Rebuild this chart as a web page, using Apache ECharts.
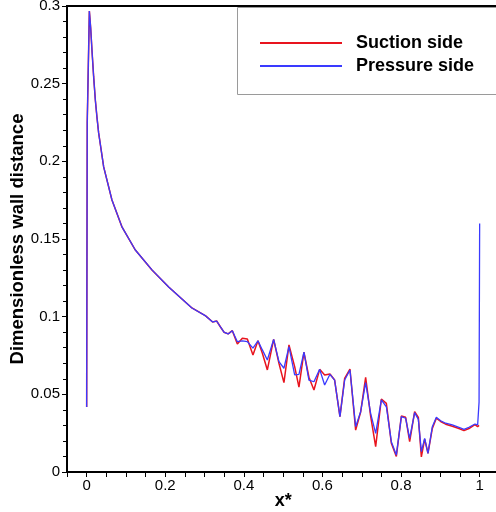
<!DOCTYPE html>
<html>
<head>
<meta charset="utf-8">
<script src="https://cdn.jsdelivr.net/npm/echarts@6/dist/echarts.min.js"></script>
<style>
html,body{margin:0;padding:0;background:#fff;}
#chart{width:496px;height:512px;}
</style>
</head>
<body>
<div id="chart"></div>
<script>
var seriesNames = ['Suction side', 'Pressure side'];
var xStar = [0, 0.0015, 0.0069, 0.0102, 0.0135, 0.0178, 0.0221, 0.0262, 0.0305, 0.0433, 0.0644, 0.0898, 0.1239,
  0.1662, 0.2087, 0.2679, 0.3028, 0.3206, 0.3308, 0.3410, 0.3494, 0.3600, 0.3707,
  0.3835, 0.3962, 0.4089, 0.4232, 0.4359, 0.4471, 0.4598, 0.4758, 0.4893, 0.5020,
  0.5148, 0.5293, 0.5402, 0.5529, 0.5656, 0.5784, 0.5929, 0.6056, 0.6191, 0.6310,
  0.6445, 0.6565, 0.6700, 0.6845, 0.6972, 0.7099, 0.7226, 0.7354, 0.7499, 0.7626,
  0.7753, 0.7880, 0.8008, 0.8117, 0.8219, 0.8346, 0.8440, 0.8517, 0.8601, 0.8685,
  0.8796, 0.8898, 0.9008, 0.9135, 0.9305, 0.9473, 0.9601, 0.9728, 0.9880, 0.9949,
  0.9985, 1.0];
var pressureY = [0.0419, 0.2250, 0.2968, 0.2860, 0.2717, 0.2545, 0.2395, 0.2285, 0.2183, 0.1964, 0.1751, 0.1578, 0.1429,
  0.1301, 0.1191, 0.1056, 0.1005, 0.0966, 0.0972, 0.0932, 0.0900, 0.0889, 0.0910,
  0.0839, 0.0844, 0.0839, 0.0797, 0.0845, 0.0786, 0.0721, 0.0854, 0.0710, 0.0668,
  0.0807, 0.0625, 0.0628, 0.0771, 0.0592, 0.0581, 0.0661, 0.0560, 0.0629, 0.0592,
  0.0356, 0.0592, 0.0657, 0.0292, 0.0388, 0.0575, 0.0378, 0.0249, 0.0464, 0.0420,
  0.0195, 0.0109, 0.0356, 0.0346, 0.0217, 0.0382, 0.0339, 0.0131, 0.0217, 0.0120,
  0.0292, 0.0352, 0.0330, 0.0314, 0.0303, 0.0288, 0.0275, 0.0288, 0.0309, 0.0303,
  0.0450, 0.1600];
var suctionY = [0.0419, 0.2250, 0.2968, 0.2860, 0.2717, 0.2545, 0.2395, 0.2285, 0.2183, 0.1964, 0.1751, 0.1578, 0.1429,
  0.1301, 0.1191, 0.1056, 0.1005, 0.0966, 0.0972, 0.0932, 0.0900, 0.0889, 0.0910,
  0.0824, 0.0861, 0.0856, 0.0753, 0.0845, 0.0764, 0.0657, 0.0854, 0.0700, 0.0575,
  0.0818, 0.0678, 0.0547, 0.0771, 0.0610, 0.0528, 0.0661, 0.0625, 0.0631, 0.0592,
  0.0356, 0.0603, 0.0663, 0.0270, 0.0386, 0.0610, 0.0360, 0.0163, 0.0470, 0.0442,
  0.0185, 0.0100, 0.0360, 0.0352, 0.0195, 0.0388, 0.0352, 0.0097, 0.0212, 0.0120,
  0.0281, 0.0346, 0.0325, 0.0308, 0.0295, 0.0280, 0.0266, 0.0280, 0.0305, 0.0292,
  0.0300, null];
var xTickLabels = ['0', '0.2', '0.4', '0.6', '0.8', '1'];
var yTickLabels = ['0', '0.05', '0.1', '0.15', '0.2', '0.25', '0.3'];

function pairs(xs, ys) {
  var out = [];
  for (var i = 0; i < xs.length; i++) {
    if (ys[i] !== null) out.push([xs[i], ys[i]]);
  }
  return out;
}

var FONT = '"Liberation Sans", Arial, Helvetica, sans-serif';
var chart = echarts.init(document.getElementById('chart'), null, {renderer: 'canvas'});
chart.setOption({
  animation: false,
  backgroundColor: '#ffffff',
  grid: {
    left: 67, top: 6, right: -3.3, bottom: 40,
    outerBoundsMode: 'none', containLabel: false,
    show: true, borderColor: '#000', borderWidth: 2, backgroundColor: 'transparent'
  },
  graphic: [{
    type: 'rect', z: 90,
    shape: { x: 237.5, y: 7.5, width: 300, height: 87 },
    style: { fill: '#ffffff', stroke: '#9a9a9a', lineWidth: 1 }
  }],
  legend: {
    left: 237, top: 7, z: 100,
    orient: 'vertical',
    data: seriesNames,
    icon: 'rect',
    itemWidth: 82, itemHeight: 2, itemGap: 5,
    padding: [27, 10, 20, 23],
    textStyle: { fontFamily: FONT, fontWeight: 'bold', fontSize: 18, color: '#000', padding: [0, 0, 0, 9] }
  },
  xAxis: {
    type: 'value', min: -0.05, max: 1.05, interval: 0.05,
    name: 'x*', nameLocation: 'middle', nameGap: 20, nameMoveOverlap: false,
    nameTextStyle: { fontFamily: FONT, fontWeight: 'bold', fontSize: 18, color: '#000' },
    axisLine: { show: true, onZero: false, lineStyle: { color: '#000', width: 2 } },
    axisTick: { show: true, length: 5, lineStyle: { color: '#000', width: 1 } },
    splitLine: { show: false },
    axisLabel: {
      margin: 6, fontFamily: FONT, fontSize: 15, color: '#000',
      formatter: function (v) {
        var k = Math.round(v * 100);
        if (k < 0 || k > 100 || k % 20 !== 0) return '';
        return xTickLabels[k / 20];
      }
    }
  },
  yAxis: {
    type: 'value', min: 0, max: 0.3, interval: 0.05,
    name: 'Dimensionless wall distance', nameLocation: 'middle', nameGap: 40, nameMoveOverlap: false,
    nameTextStyle: { fontFamily: FONT, fontWeight: 'bold', fontSize: 18.5, color: '#000' },
    axisLine: { show: true, onZero: false, lineStyle: { color: '#000', width: 2 } },
    axisTick: { show: true, length: 5, lineStyle: { color: '#000', width: 1 } },
    minorTick: { show: true, splitNumber: 5, length: 4, lineStyle: { color: '#000', width: 1 } },
    splitLine: { show: false },
    axisLabel: {
      margin: 7, fontFamily: FONT, fontSize: 15, color: '#000',
      formatter: function (v) {
        var k = Math.round(v * 100);
        return yTickLabels[Math.round(k / 5)];
      }
    }
  },
  series: [
    {
      name: seriesNames[0], type: 'line', data: pairs(xStar, suctionY),
      symbol: 'none', color: '#e8141e',
      lineStyle: { color: '#e8141e', width: 1.5 }, z: 2
    },
    {
      name: seriesNames[1], type: 'line', data: pairs(xStar, pressureY),
      symbol: 'none', color: '#3a3aff',
      lineStyle: { color: '#3a3aff', width: 1.3 }, z: 3
    }
  ]
});
</script>
</body>
</html>
